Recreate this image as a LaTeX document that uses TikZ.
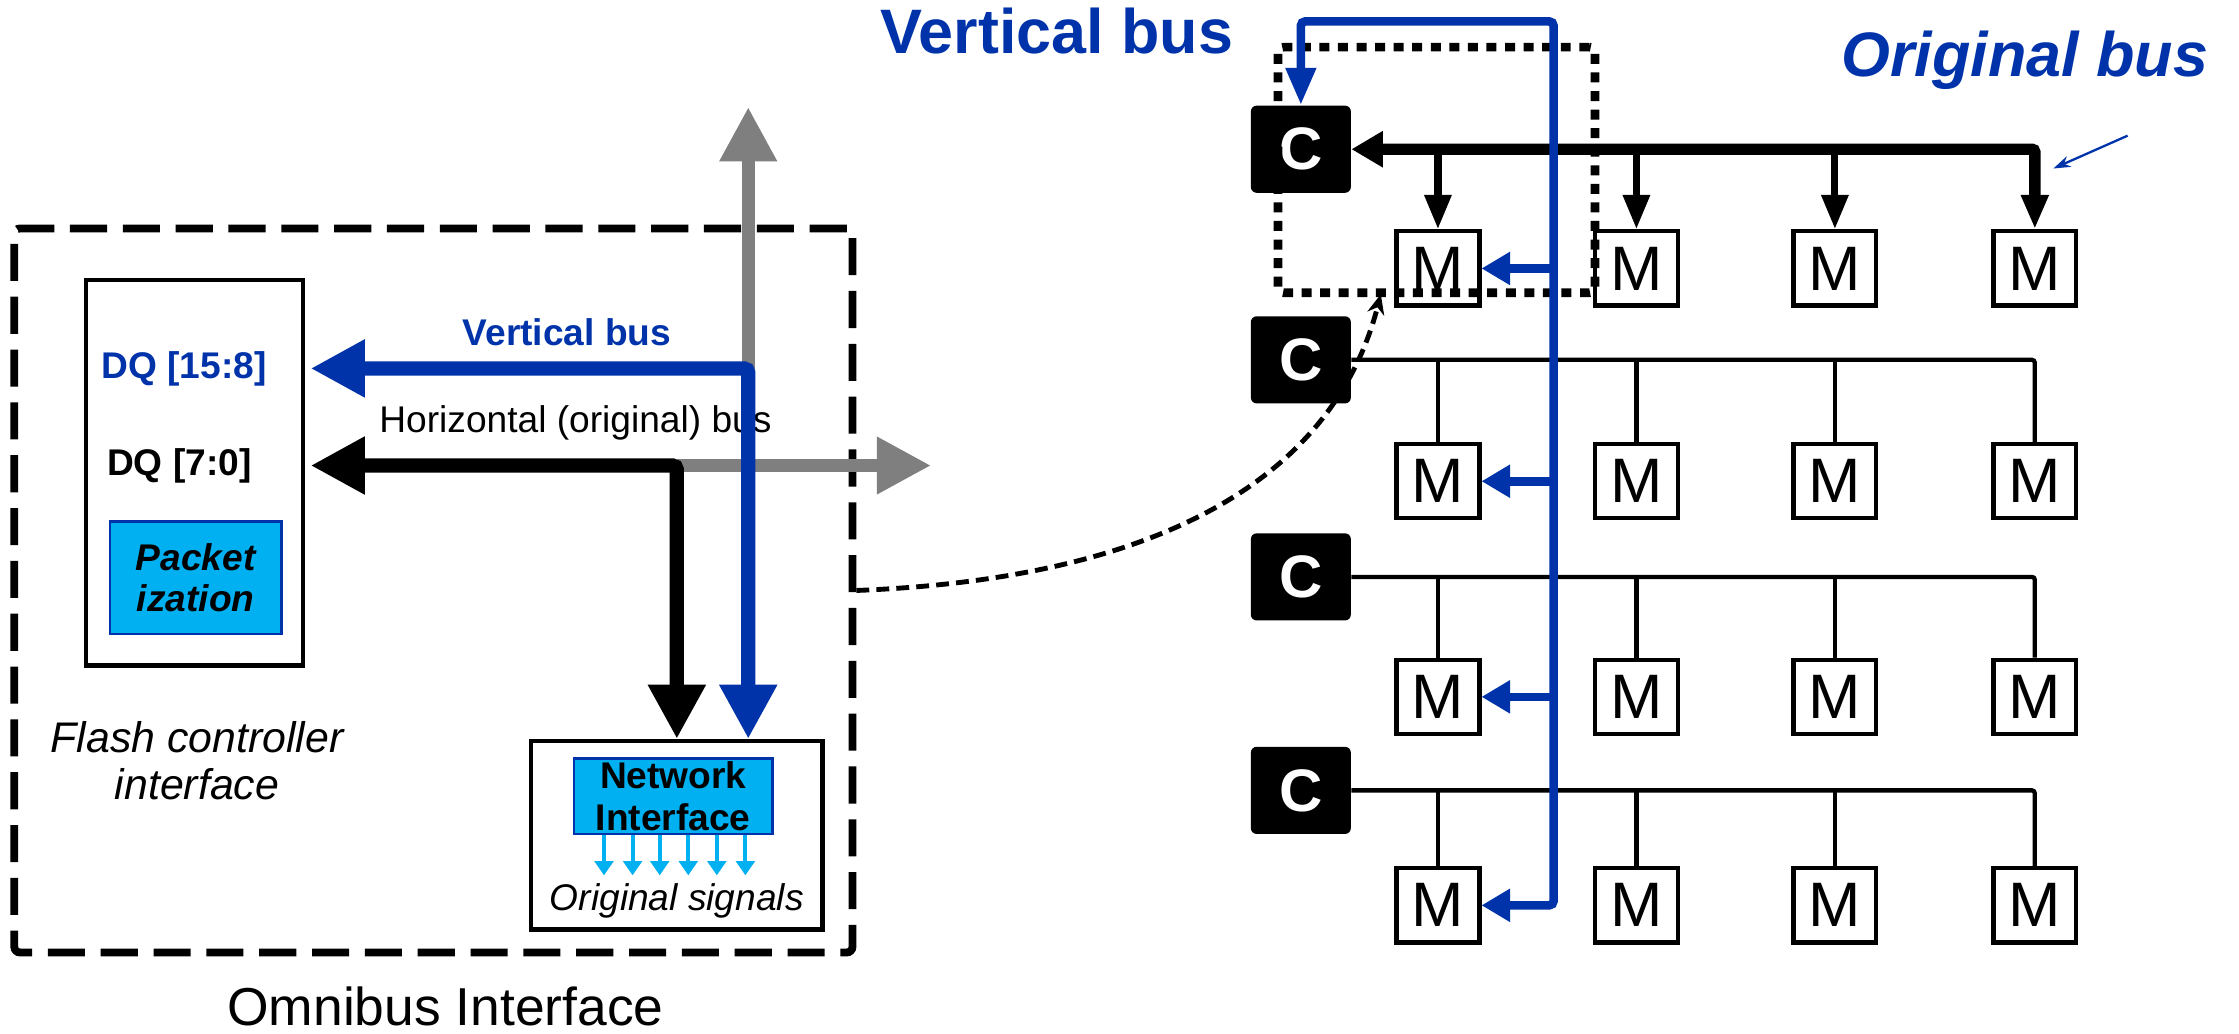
\documentclass[tikz,border=0pt]{standalone}
\usepackage{fontspec}
\setmainfont{Liberation Sans}
\usetikzlibrary{arrows.meta,positioning}
\definecolor{busblue}{RGB}{0,51,170}
\definecolor{nicyan}{RGB}{0,176,240}
\definecolor{busgray}{RGB}{127,127,127}
\newcommand{\smsz}{\fontsize{13}{14.5}\selectfont}
\newcommand{\midsz}{\fontsize{15}{16.5}\selectfont}
\newcommand{\bigsz}{\fontsize{22}{26}\selectfont}
\tikzset{
  fathead/.tip={Triangle[length=19pt,width=19pt]},
  chead/.tip={Triangle[length=11pt,width=12pt]},
  mhead/.tip={Triangle[length=12pt,width=9pt]},
  bhead/.tip={Triangle[length=10pt,width=11pt]},
  bthead/.tip={Triangle[length=13pt,width=10pt]},
  sighead/.tip={Triangle[length=5pt,width=6.5pt]},
}

\begin{document}
\begin{tikzpicture}[x=0.5pt,y=-0.5pt,font=\smsz,
  box/.style={draw,line width=1.5pt,fill=white,inner sep=0pt},
  cyanbox/.style={draw=busblue,line width=1pt,fill=nicyan,inner sep=0pt,align=center},
  cbox/.style={fill=black,rounded corners=2pt,minimum width=35pt,minimum height=30.5pt,inner sep=0pt,text=white,font=\fontsize{21}{22}\selectfont\bfseries},
  mbox/.style={draw,line width=1.5pt,fill=white,minimum width=29pt,minimum height=26pt,inner sep=0pt,font=\fontsize{22}{22}\selectfont},
  fatbus/.style={line width=5pt,rounded corners=1.5pt,fathead-fathead,shorten <=2pt},
  graybus/.style={busgray,line width=4.5pt,-fathead},
  topbus/.style={line width=4pt,rounded corners=1pt},
  dropbus/.style={line width=2.5pt,-mhead},
  thinbus/.style={line width=1.5pt,rounded corners=1pt},
  rbus/.style={busblue,line width=3pt,rounded corners=1.5pt},
]
\useasboundingbox (0,0) rectangle (1568,724);

% Left: omnibus interface
\node[draw,line width=2.75pt,dash pattern=on 13pt off 5.5pt,rounded corners=2pt,minimum width=293.5pt,minimum height=253.5pt] (omni) at (303.5,413.5) {};
\node[font=\fontsize{18.7}{22}\selectfont,inner sep=1pt] (omnilbl) at (312,705) {Omnibus Interface};
\node[box,minimum width=76pt,minimum height=135pt] (fci) at (136,331) {};
\node[cyanbox,minimum width=60pt,minimum height=39.5pt,font=\smsz\bfseries\itshape] (pkt) at (137,404.5) {Packet\\ization};
\node[anchor=west,text=busblue,font=\smsz\bfseries] (dqhi) at (64,258) {DQ [15:8]};
\node[anchor=west,font=\smsz\bfseries] (dqlo) at (68,326) {DQ [7:0]};
\node[font=\midsz\itshape,align=center] (flbl) at (138,533) {Flash controller\\interface};
\node[box,minimum width=102pt,minimum height=66pt] (nibox) at (474,585) {};
\node[cyanbox,minimum width=69.5pt,minimum height=26.5pt,font=\smsz\bfseries] (ni) at (471.5,557.5) {Network\\Interface};
\node[font=\smsz\itshape] (orig) at (474,631) {Original signals};
\foreach \x in {423,443,462,482,502,522}
  \draw[nicyan,line width=1.4pt,-sighead] (\x,0 |- ni.south) -- ++(0,28);
\node[text=busblue,font=\smsz\bfseries] (vblbl) at (397,233) {Vertical bus};
\node (hblbl) at (403,296) {Horizontal (original) bus};

% Bus arrows
\coordinate (hb) at (474,326);
\coordinate (vb) at (524,258);
\coordinate (gN) at (524,75);
\coordinate (gE) at (652,326);
\draw[graybus] (hb) -- (gE);
\draw[graybus] (vb |- hb) -- (gN);
\draw[fatbus] (hb -| fci.east) -- (hb) -- (hb |- nibox.north);
\draw[fatbus,busblue] (vb -| fci.east) -- (vb) -- (vb |- nibox.north);

% Right: controllers and memories
\foreach \i/\y in {1/104.5,2/252,3/404,4/553.5}
  \node[cbox] (c\i) at (911,\y) {C};
\foreach \i/\y in {1/188,2/337,3/488,4/634}
  \foreach \j/\x in {1/1007,2/1146,3/1285,4/1425}
    \node[mbox] (m\i\j) at (\x,\y) {M};
\draw[topbus,chead-mhead] (c1.east) -- (c1.east -| m14.north) -- (m14.north);
\foreach \j in {1,2,3}
  \draw[dropbus] (c1.east -| m1\j.north) -- (m1\j.north);
\foreach \i in {2,3,4} {
  \draw[thinbus] (c\i.east) -- (c\i.east -| m\i4.north) -- (m\i4.north);
  \foreach \j in {1,2,3}
    \draw[line width=1.5pt] (c\i.east -| m\i\j.north) -- (m\i\j.north);
}
\node[draw,line width=3pt,dash pattern=on 3.5pt off 3pt,rounded corners=2pt,minimum width=111pt,minimum height=86pt] (grp) at (1006,119) {};

% Vertical bus on the right
\coordinate (vt) at (1088,15);
\draw[rbus,bthead-bhead] (c1.north) -- (c1.north |- vt) -- (vt) -- (vt |- m41.east) -- (m41.east);
\foreach \i in {1,2,3}
  \draw[rbus,-bhead] (vt |- m\i1.east) -- (m\i1.east);

% Labels and zoom link
\node[text=busblue,font=\bigsz\bfseries] (vbtitle) at (740,22) {Vertical bus};
\node[text=busblue,font=\bigsz\bfseries\itshape] (obtitle) at (1418,42) {Original bus};
\coordinate (obfrom) at (1490,95);
\coordinate (obtip) at (1438,118);
\draw[busblue,line width=0.8pt,-{Stealth[length=6pt,width=4pt]}] (obfrom) -- (obtip);
\coordinate (tgt) at (967,206);
\draw[line width=1.7pt,dash pattern=on 4.5pt off 2.5pt,-{Stealth[length=7pt,width=6pt]}] (omni.east) .. controls (820,405) and (935,330) .. (tgt);
\end{tikzpicture}
\end{document}
